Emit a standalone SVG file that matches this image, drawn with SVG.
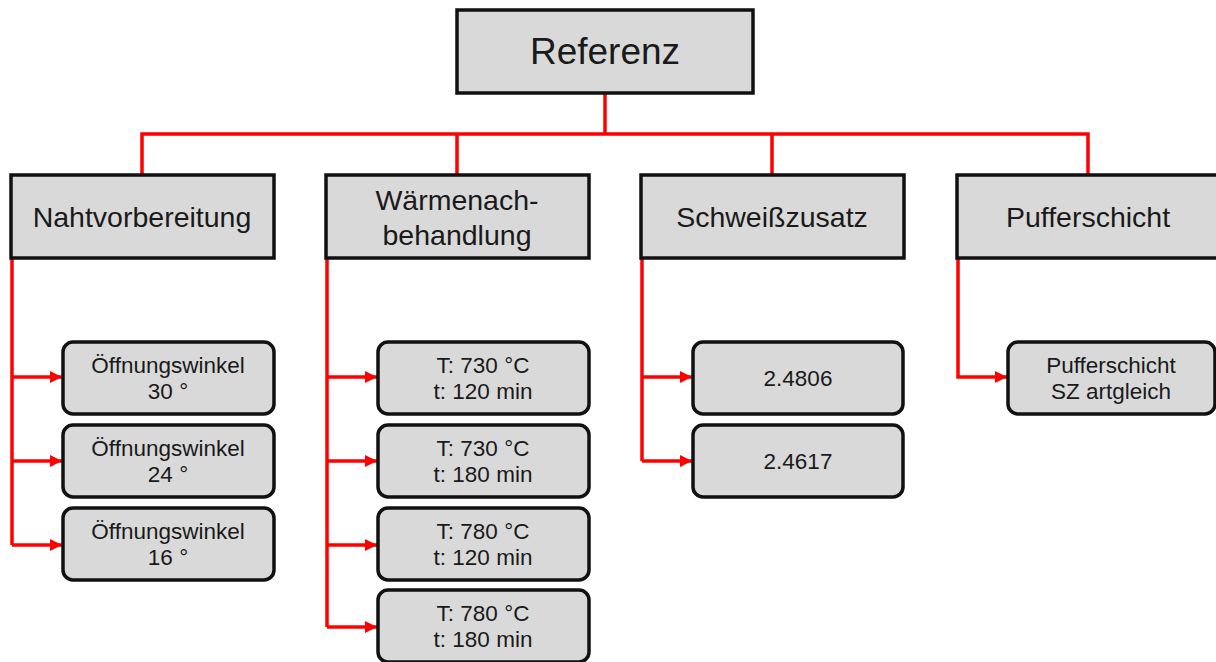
<svg xmlns="http://www.w3.org/2000/svg" width="1216" height="662" viewBox="0 0 1216 662">
<defs>
<marker id="arr" markerWidth="12" markerHeight="12" refX="12" refY="6" orient="auto" markerUnits="userSpaceOnUse">
<path d="M0,0 L12,6 L0,12 Z" fill="#ff0000"/>
</marker>
</defs>
<style>
.box{fill:#d9d9d9;stroke:#111;stroke-width:3.5}
.t{font-family:"Liberation Sans",Arial,sans-serif;fill:#1a1a1a;text-anchor:middle}
.big{font-size:37px}
.cat{font-size:28.5px}
.leaf{font-size:22.5px}
.ln{fill:none;stroke:#ff0000;stroke-width:3.5}
</style>
<rect width="1216" height="662" fill="#ffffff"/>
<g id="connectors">
<path class="ln" d="M605,93 V134 M142,175 V134 H1088 V175 M457,134 V175 M772,134 V175"/>
<path class="ln" d="M12,258 V545"/>
<path class="ln" d="M12,377 H62" marker-end="url(#arr)"/>
<path class="ln" d="M12,461 H62" marker-end="url(#arr)"/>
<path class="ln" d="M12,545 H62" marker-end="url(#arr)"/>
<path class="ln" d="M327,258 V627"/>
<path class="ln" d="M327,377 H377" marker-end="url(#arr)"/>
<path class="ln" d="M327,461 H377" marker-end="url(#arr)"/>
<path class="ln" d="M327,545 H377" marker-end="url(#arr)"/>
<path class="ln" d="M327,627 H377" marker-end="url(#arr)"/>
<path class="ln" d="M642,258 V461"/>
<path class="ln" d="M642,377 H692" marker-end="url(#arr)"/>
<path class="ln" d="M642,461 H692" marker-end="url(#arr)"/>
<path class="ln" d="M958,258 V377 H1007" marker-end="url(#arr)"/>
</g>
<g id="referenz">
<rect class="box" x="457" y="10" width="296" height="83"/>
<text class="t big" x="605" y="64">Referenz</text>
</g>
<g id="nahtvorbereitung">
<rect class="box" x="11" y="175" width="263" height="83"/>
<text class="t cat" x="142" y="227">Nahtvorbereitung</text>
</g>
<g id="waermenachbehandlung">
<rect class="box" x="326" y="175" width="263" height="83"/>
<text class="t cat" x="457" y="210">Wärmenach-</text>
<text class="t cat" x="457" y="245">behandlung</text>
</g>
<g id="schweisszusatz">
<rect class="box" x="641" y="175" width="263" height="83"/>
<text class="t cat" x="772" y="227">Schweißzusatz</text>
</g>
<g id="pufferschicht">
<rect class="box" x="957" y="175" width="263" height="83"/>
<text class="t cat" x="1088" y="227">Pufferschicht</text>
</g>
<g id="oeffnung30">
<rect class="box" x="63" y="342" width="211" height="72" rx="10"/>
<text class="t leaf" x="168" y="373">Öffnungswinkel</text>
<text class="t leaf" x="168" y="399">30 °</text>
</g>
<g id="oeffnung24">
<rect class="box" x="63" y="425" width="211" height="72" rx="10"/>
<text class="t leaf" x="168" y="456">Öffnungswinkel</text>
<text class="t leaf" x="168" y="482">24 °</text>
</g>
<g id="oeffnung16">
<rect class="box" x="63" y="508" width="211" height="72" rx="10"/>
<text class="t leaf" x="168" y="539">Öffnungswinkel</text>
<text class="t leaf" x="168" y="565">16 °</text>
</g>
<g id="w730-120">
<rect class="box" x="378" y="342" width="211" height="72" rx="10"/>
<text class="t leaf" x="483" y="373">T: 730 °C</text>
<text class="t leaf" x="483" y="399">t: 120 min</text>
</g>
<g id="w730-180">
<rect class="box" x="378" y="425" width="211" height="72" rx="10"/>
<text class="t leaf" x="483" y="456">T: 730 °C</text>
<text class="t leaf" x="483" y="482">t: 180 min</text>
</g>
<g id="w780-120">
<rect class="box" x="378" y="508" width="211" height="72" rx="10"/>
<text class="t leaf" x="483" y="539">T: 780 °C</text>
<text class="t leaf" x="483" y="565">t: 120 min</text>
</g>
<g id="w780-180">
<rect class="box" x="378" y="590" width="211" height="72" rx="10"/>
<text class="t leaf" x="483" y="621">T: 780 °C</text>
<text class="t leaf" x="483" y="647">t: 180 min</text>
</g>
<g id="s24806">
<rect class="box" x="693" y="342" width="210" height="72" rx="10"/>
<text class="t leaf" x="798" y="386">2.4806</text>
</g>
<g id="s24617">
<rect class="box" x="693" y="425" width="210" height="72" rx="10"/>
<text class="t leaf" x="798" y="469">2.4617</text>
</g>
<g id="puffer-sz">
<rect class="box" x="1008" y="342" width="207" height="72" rx="10"/>
<text class="t leaf" x="1111" y="373">Pufferschicht</text>
<text class="t leaf" x="1111" y="399">SZ artgleich</text>
</g>
</svg>
